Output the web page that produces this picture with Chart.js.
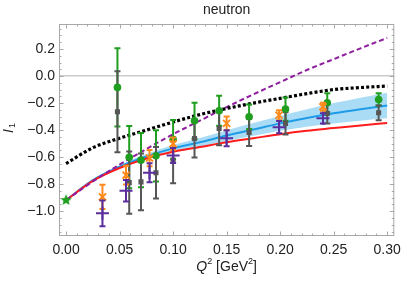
<!DOCTYPE html>
<html>
<head>
<meta charset="utf-8">
<script src="https://cdn.jsdelivr.net/npm/chart.js@4.4.1/dist/chart.umd.min.js"></script>
<style>
html, body { margin: 0; padding: 0; background: #fff; }
#wrap { width: 407px; height: 284px; }
</style>
</head>
<body>
<div id="wrap"><canvas id="chart"></canvas></div>
<script>
// curves, sampled along Q^2
const curveQ = [0, 0.025, 0.05, 0.075, 0.1, 0.125, 0.15, 0.175, 0.2, 0.225, 0.25, 0.275, 0.3];
const redCurve = [-0.918, -0.775, -0.68, -0.61, -0.56, -0.525, -0.49, -0.46, -0.43, -0.405, -0.385, -0.365, -0.348];
const blueCurve = [-0.918, -0.77, -0.67, -0.595, -0.535, -0.49, -0.44, -0.395, -0.35, -0.31, -0.275, -0.245, -0.218];
const bandUpper = [-0.918, -0.766, -0.66, -0.577, -0.51, -0.458, -0.40, -0.348, -0.295, -0.245, -0.20, -0.16, -0.123];
const bandLower = [-0.918, -0.774, -0.68, -0.613, -0.56, -0.522, -0.48, -0.442, -0.405, -0.375, -0.35, -0.33, -0.313];
const purpleCurve = [-0.918, -0.78, -0.655, -0.54, -0.43, -0.33, -0.23, -0.135, -0.045, 0.045, 0.125, 0.205, 0.282];
const blackCurve = [-0.647, -0.53, -0.46, -0.40, -0.34, -0.285, -0.24, -0.20, -0.165, -0.13, -0.10, -0.085, -0.074];

// data points
const greenQ = [0.048, 0.059, 0.070, 0.084, 0.100, 0.120, 0.143, 0.171, 0.205, 0.244, 0.292];
const greenVal = [-0.084, -0.60, -0.622, -0.59, -0.47, -0.331, -0.257, -0.301, -0.244, -0.198, -0.173];
const greenErr = [0.29, 0.23, 0.20, 0.19, 0.145, 0.133, 0.111, 0.091, 0.086, 0.07, 0.045];

const grayQ = [0.048, 0.059, 0.070, 0.084, 0.100, 0.120, 0.143, 0.171, 0.205, 0.244, 0.292];
const grayVal = [-0.264, -0.788, -0.783, -0.715, -0.622, -0.462, -0.388, -0.417, -0.35, -0.277, -0.272];
const grayErr = [0.30, 0.23, 0.21, 0.19, 0.17, 0.14, 0.123, 0.10, 0.082, 0.073, 0.055];

const orangeQ = [0.034, 0.056, 0.078, 0.100, 0.150, 0.199, 0.240];
const orangeVal = [-0.894, -0.733, -0.607, -0.50, -0.35, -0.289, -0.227];
const orangeErr = [0.09, 0.07, 0.06, 0.046, 0.05, 0.037, 0.03];

const purpleQ = [0.034, 0.056, 0.078, 0.100, 0.150, 0.199, 0.240];
const purpleVal = [-1.015, -0.848, -0.715, -0.588, -0.46, -0.378, -0.313];
const purpleErr = [0.095, 0.08, 0.07, 0.055, 0.06, 0.045, 0.037];

const starQ = [0];
const starVal = [-0.918];

const xTicks = [0, 0.05, 0.1, 0.15, 0.2, 0.25, 0.3];
const yTicks = [-1.0, -0.8, -0.6, -0.4, -0.2, 0.0, 0.2];

function curve(vals) {
    return curveQ.map((q, i) => ({ x: q, y: vals[i] }));
}

function points(qs, vals) {
    return qs.map((q, i) => ({ x: q, y: vals[i] }));
}

// error bar segments, broken by a null point between bars
function bars(qs, vals, errs) {
    let d = [];
    qs.forEach((q, i) => {
        d.push({ x: q, y: vals[i] - errs[i] }, { x: q, y: vals[i] + errs[i] }, { x: q, y: null });
    });
    return d;
}

function makeStar(r, color) {
    const c = document.createElement('canvas');
    c.width = c.height = 2 * r + 2;
    const g = c.getContext('2d');
    g.fillStyle = color;
    g.beginPath();
    for (let i = 0; i < 10; i++) {
        const a = -Math.PI / 2 + i * Math.PI / 5;
        const rr = i % 2 ? r * 0.45 : r;
        g.lineTo(r + 1 + rr * Math.cos(a), r + 1 + rr * Math.sin(a));
    }
    g.closePath();
    g.fill();
    return c;
}

const GREEN = '#1f9e1f';
const GRAY = '#565656';
const ORANGE = '#ff8a1c';
const INDIGO = '#5a2e9c';
const FONT = 'Liberation Sans, Arial, sans-serif';

function lineSet(data, color, width, dash, order) {
    return {
        data: data, borderColor: color, borderWidth: width, borderDash: dash || [],
        pointRadius: 0, fill: false, cubicInterpolationMode: 'monotone', order: order
    };
}

function barSet(data, color, order) {
    return {
        data: data, borderColor: color, borderWidth: 2, pointStyle: 'line',
        pointRadius: 3, pointBorderWidth: 2, pointBorderColor: color,
        spanGaps: false, fill: false, order: order
    };
}

function markSet(data, color, style, radius, filled, order) {
    return {
        data: data, showLine: false, pointStyle: style, pointRadius: radius,
        pointBackgroundColor: filled ? color : 'rgba(0,0,0,0)', pointBorderColor: color,
        pointBorderWidth: filled ? 0 : 2, order: order
    };
}

const frame = {
    id: 'frame',
    afterDraw(chart) {
        const { ctx, chartArea: a, scales: { x, y } } = chart;
        ctx.save();
        ctx.strokeStyle = '#a8a8a8';
        ctx.lineWidth = 1;
        ctx.strokeRect(a.left + 0.5, a.top + 0.5, a.right - a.left - 1, a.bottom - a.top - 1);
        ctx.beginPath();
        for (let i = 0; i <= 30; i++) {
            const px = Math.round(x.getPixelForValue(i * 0.01)) + 0.5;
            const len = i % 5 === 0 ? 4.5 : 2.5;
            ctx.moveTo(px, a.bottom); ctx.lineTo(px, a.bottom - len);
            ctx.moveTo(px, a.top); ctx.lineTo(px, a.top + len);
        }
        for (let k = -23; k <= 7; k++) {
            const py = Math.round(y.getPixelForValue(k * 0.05)) + 0.5;
            const len = k % 4 === 0 ? 4.5 : 2.5;
            ctx.moveTo(a.left, py); ctx.lineTo(a.left + len, py);
            ctx.moveTo(a.right, py); ctx.lineTo(a.right - len, py);
        }
        ctx.stroke();

        ctx.fillStyle = '#222';
        ctx.textBaseline = 'middle';
        ctx.textAlign = 'center';
        ctx.font = '14px ' + FONT;
        ctx.fillText('neutron', (a.left + a.right) / 2, 10);

        // x axis title: Q^2 [GeV^2]
        ctx.textAlign = 'left';
        const cx = (a.left + a.right) / 2, cy = 267;
        ctx.font = 'italic 14px ' + FONT;
        const wQ = ctx.measureText('Q').width;
        ctx.font = '9px ' + FONT;
        const w2 = ctx.measureText('2').width;
        ctx.font = '14px ' + FONT;
        const wG = ctx.measureText(' [GeV').width;
        const wB = ctx.measureText(']').width;
        let sx = cx - (wQ + w2 + wG + w2 + wB) / 2;
        ctx.font = 'italic 14px ' + FONT;
        ctx.fillText('Q', sx, cy); sx += wQ;
        ctx.font = '9px ' + FONT;
        ctx.fillText('2', sx, cy - 5); sx += w2;
        ctx.font = '14px ' + FONT;
        ctx.fillText(' [GeV', sx, cy); sx += wG;
        ctx.font = '9px ' + FONT;
        ctx.fillText('2', sx, cy - 5); sx += w2;
        ctx.font = '14px ' + FONT;
        ctx.fillText(']', sx, cy);

        // y axis title: I_1
        ctx.translate(9, 129);
        ctx.rotate(-Math.PI / 2);
        ctx.font = 'italic 14px ' + FONT;
        const wI = ctx.measureText('I').width;
        ctx.fillText('I', -wI / 2 - 2, 0);
        ctx.font = '9px ' + FONT;
        ctx.fillText('1', wI / 2 - 1, 4);
        ctx.restore();
    }
};

const ctx = document.getElementById('chart');

chart = new Chart(ctx, {
    type: 'line',
    data: {
        datasets: [
            // band between upper and lower edge
            Object.assign(lineSet(curve(bandUpper), 'rgba(0,0,0,0)', 0, null, 20),
                { fill: '+1', backgroundColor: '#abdcf6' }),
            lineSet(curve(bandLower), 'rgba(0,0,0,0)', 0, null, 20),
            lineSet(curve(blueCurve), '#1e9ce8', 2, null, 15),
            lineSet(curve(redCurve), '#ff1c1c', 2, null, 14),
            lineSet(curve(purpleCurve), '#8e1e9e', 2, [5, 3], 13),
            lineSet(curve(blackCurve), '#000000', 3.2, [3, 2.2], 12),
            barSet(bars(greenQ, greenVal, greenErr), GREEN, 10),
            barSet(bars(grayQ, grayVal, grayErr), GRAY, 9),
            markSet(points(greenQ, greenVal), GREEN, 'circle', 3.8, true, 8),
            markSet(points(grayQ, grayVal), GRAY, 'rect', 3.6, true, 7),
            barSet(bars(orangeQ, orangeVal, orangeErr), ORANGE, 6),
            markSet(points(orangeQ, orangeVal), ORANGE, 'crossRot', 5, false, 5),
            barSet(bars(purpleQ, purpleVal, purpleErr), INDIGO, 4),
            markSet(points(purpleQ, purpleVal), INDIGO, 'cross', 6.5, false, 3),
            markSet(points(starQ, starVal), GREEN, makeStar(6, GREEN), 6, true, 1)
        ]
    },
    options: {
        responsive: true,
        maintainAspectRatio: false,
        animation: false,
        layout: { padding: { top: 24, right: 7, left: 0, bottom: 0 } },
        plugins: {
            legend: { display: false },
            tooltip: { enabled: false }
        },
        scales: {
            x: {
                type: 'linear',
                min: -0.0066,
                max: 0.3066,
                afterBuildTicks: s => { s.ticks = xTicks.map(v => ({ value: v })); },
                afterFit: s => { s.height = 48; },
                grid: { display: false, drawTicks: false },
                border: { display: false },
                ticks: {
                    padding: 6, color: '#222', maxRotation: 0, autoSkip: false,
                    font: { family: FONT, size: 14 },
                    callback: v => v.toFixed(2)
                }
            },
            y: {
                type: 'linear',
                min: -1.183,
                max: 0.385,
                afterBuildTicks: s => { s.ticks = yTicks.map(v => ({ value: v })); },
                afterFit: s => { s.width = 59; },
                grid: {
                    drawTicks: false,
                    lineWidth: 1.5,
                    color: c => (c.tick && Math.abs(c.tick.value) < 1e-9) ? '#cccccc' : 'rgba(0,0,0,0)'
                },
                border: { display: false },
                ticks: {
                    padding: 4, color: '#222', autoSkip: false,
                    font: { family: FONT, size: 14 },
                    callback: v => (v < -1e-9 ? '\u2212' : '') + Math.abs(v).toFixed(1)
                }
            }
        }
    },
    plugins: [frame]
});
</script>
</body>
</html>
